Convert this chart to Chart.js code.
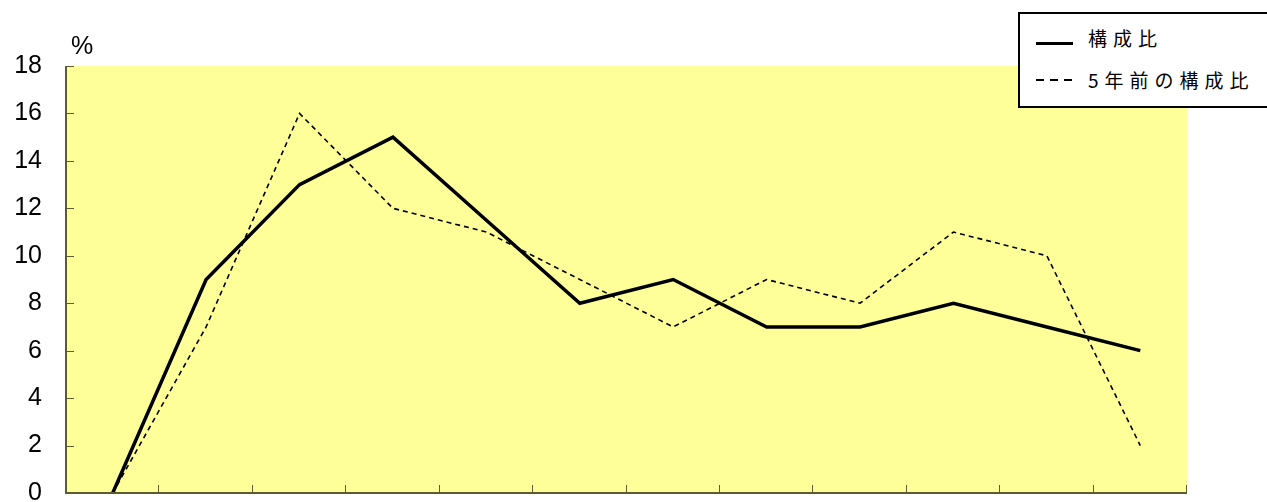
<!DOCTYPE html>
<html>
<head>
<meta charset="utf-8">
<script src="https://cdn.jsdelivr.net/npm/chart.js@4/dist/chart.umd.min.js"></script>
<style>
  body { margin: 0; background: #fff; }
  #wrap { position: relative; width: 1267px; height: 502px; overflow: hidden; }
  #legend {
    position: absolute; left: 1018px; top: 12px; width: 270px; height: 92px;
    border: 2px solid #000; background: #fff;
    font-family: "Noto Sans CJK JP", sans-serif; font-size: 19px; letter-spacing: 6px;
  }
  .row { position: absolute; left: 16px; height: 20px; }
  .row span { position: absolute; left: 52px; top: -10px; white-space: nowrap; }
  .solid { position: absolute; left: 0; top: 8px; width: 37px; height: 3px; background: #000; }
  .dashed { position: absolute; left: 0; top: 3px; width: 37px; height: 2px;
    background: repeating-linear-gradient(to right, #000 0 8px, transparent 8px 14px); }
  #unit { position: absolute; left: 71px; top: 31px; font-family: "Liberation Sans", Arial, sans-serif; font-size: 25px; }
</style>
</head>
<body>
<div id="wrap">
  <canvas id="js--chart--1" width="1267" height="502"></canvas>
  <div id="unit">%</div>
  <div id="legend">
    <div class="row" style="top:20px"><div class="solid"></div><span>構成比</span></div>
    <div class="row" style="top:62px"><div class="dashed"></div><span>5年前の構成比</span></div>
  </div>
</div>
<script>
const labels = ["1", "2", "3", "4", "5", "6", "7", "8", "9", "10", "11", "12"];
const current = [0, 9, 13, 15, 11.5, 8, 9, 7, 7, 8, 7, 6];
const fiveYearsAgo = [0, 7, 16, 12, 11, 9, 7, 9, 8, 11, 10, 2];
const yTicks = [0, 2, 4, 6, 8, 10, 12, 14, 16, 18];

const axisColor = '#5c5c30';

// yellow plot background + inward tick marks
const plotDeco = {
    id: 'plotDeco',
    beforeDraw(chart) {
        const {ctx, chartArea: a} = chart;
        ctx.save();
        ctx.fillStyle = '#ffff99';
        ctx.fillRect(a.left, a.top, a.right - a.left, a.bottom - a.top);
        ctx.restore();
    },
    afterDatasetsDraw(chart) {
        const {ctx, chartArea: a, scales} = chart;
        ctx.save();
        ctx.strokeStyle = axisColor;
        ctx.lineWidth = 2;
        ctx.beginPath();
        ctx.moveTo(a.left, a.top);
        ctx.lineTo(a.left, a.bottom);
        ctx.lineTo(a.right, a.bottom);
        ctx.stroke();
        ctx.lineWidth = 1;
        ctx.beginPath();
        yTicks.forEach(v => {
            const y = Math.round(scales.y.getPixelForValue(v)) + 0.5;
            ctx.moveTo(a.left, y);
            ctx.lineTo(a.left + 8, y);
        });
        for (let i = 1; i <= labels.length; i++) {
            const x = Math.round(i < labels.length
                ? (scales.x.getPixelForValue(i - 1) + scales.x.getPixelForValue(i)) / 2
                : a.right) - 0.5;
            ctx.moveTo(x, a.bottom);
            ctx.lineTo(x, a.bottom - 8);
        }
        ctx.stroke();
        ctx.restore();
    }
};

const data = {
    labels: labels,
    datasets: [
        {
            label: "構成比",
            data: current,
            borderColor: '#000',
            borderWidth: 3.5,
            pointRadius: 0,
            tension: 0,
        },
        {
            label: "5年前の構成比",
            data: fiveYearsAgo,
            borderColor: '#000',
            borderWidth: 1.6,
            borderDash: [5, 4],
            pointRadius: 0,
            tension: 0,
        }
    ]
};

const config = {
    type: 'line',
    data: data,
    options: {
        responsive: false,
        animation: false,
        layout: { padding: { top: 66, right: 80, bottom: 9, left: 0 } },
        plugins: { legend: { display: false }, tooltip: { enabled: false } },
        scales: {
            x: {
                offset: true,
                grid: { display: false, drawTicks: false },
                border: { display: false },
                ticks: { display: false },
                afterFit(s) { s.height = 0; s.paddingLeft = 0; s.paddingRight = 0; }
            },
            y: {
                min: 0,
                max: 18,
                afterBuildTicks(s) { s.ticks = yTicks.map(v => ({value: v})); },
                grid: { display: false, drawTicks: false },
                border: { display: false },
                ticks: {
                    color: '#000',
                    padding: 24,
                    font: { family: 'Liberation Sans', size: 25 }
                },
                afterFit(s) { s.width = 66; s.paddingTop = 0; s.paddingBottom = 0; }
            }
        }
    },
    plugins: [plotDeco]
};

new Chart(document.getElementById("js--chart--1"), config);
</script>
</body>
</html>
